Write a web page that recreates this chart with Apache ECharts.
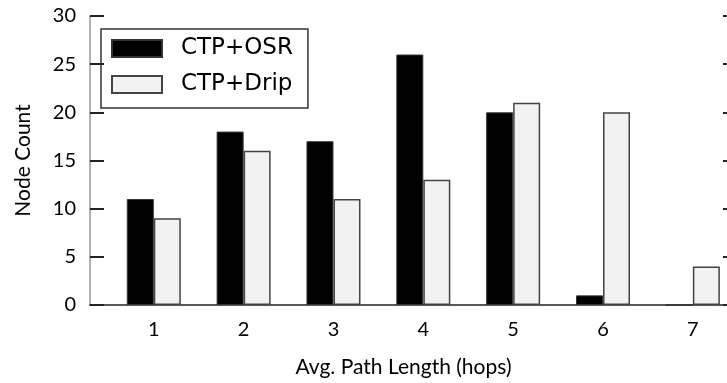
<!DOCTYPE html>
<html>
<head>
<meta charset="utf-8">
<script src="https://cdn.jsdelivr.net/npm/echarts@6/dist/echarts.min.js"></script>
<style>
  html, body { margin: 0; padding: 0; background: #fff; }
  #chart { width: 727px; height: 383px; }
</style>
</head>
<body>
<div id="chart"></div>
<script>
// Average path length histogram: nodes per hop count
const hops = [1, 2, 3, 4, 5, 6, 7];
const osrCounts = [11, 18, 17, 26, 20, 1, 0];
const dripCounts = [9, 16, 11, 13, 21, 20, 4];
const yTicks = [0, 5, 10, 15, 20, 25, 30];

const legendFont = 'DejaVu Sans';
const axisFont = 'Lato';

const xMin = 0.29;
const xMax = 7.38;

const chart = echarts.init(document.getElementById('chart'), null, { renderer: 'canvas' });

chart.setOption({
  animation: false,
  backgroundColor: '#ffffff',
  grid: { left: 90, top: 16, right: 0, height: 289, containLabel: false },
  legend: {
    orient: 'vertical',
    left: 101,
    top: 29,
    padding: [8, 15, 12, 10],
    itemGap: 13,
    itemWidth: 50,
    itemHeight: 17,
    borderColor: '#333',
    borderWidth: 1.5,
    icon: 'rect',
    textStyle: {
      fontFamily: legendFont,
      fontSize: 23,
      color: '#000',
      padding: [0, 0, 0, 14]
    },
    data: ['CTP+OSR', 'CTP+Drip']
  },
  xAxis: [
    {
      type: 'value',
      position: 'bottom',
      min: xMin,
      max: xMax,
      name: 'Avg. Path Length (hops)',
      nameLocation: 'middle',
      nameGap: 52,
      nameTextStyle: { fontFamily: axisFont, fontSize: 21, color: '#000', padding: [0, 10, 0, 0] },
      axisLine: { show: true, lineStyle: { color: '#333', width: 1.5 } },
      axisTick: { show: false },
      splitLine: { show: false },
      axisLabel: {
        customValues: hops,
        formatter: v => String(v),
        margin: 15,
        fontFamily: axisFont,
        fontSize: 20,
        color: '#000'
      }
    },
    {
      type: 'value',
      position: 'top',
      min: xMin,
      max: xMax,
      axisLine: { show: true, lineStyle: { color: '#555', width: 1.5 } },
      axisTick: { show: false },
      axisLabel: { show: false },
      splitLine: { show: false }
    }
  ],
  yAxis: [
    {
      type: 'value',
      position: 'left',
      min: yTicks[0],
      max: yTicks[yTicks.length - 1],
      interval: 5,
      name: 'Node Count',
      nameLocation: 'middle',
      nameRotate: 90,
      nameGap: 56,
      nameTextStyle: { fontFamily: axisFont, fontSize: 21, color: '#000' },
      axisLine: { show: true, lineStyle: { color: '#999', width: 1.5 } },
      axisTick: { show: true, inside: true, length: 14, lineStyle: { color: '#222', width: 2 } },
      splitLine: { show: false },
      axisLabel: { margin: 14, fontFamily: axisFont, fontSize: 20, color: '#000' }
    },
    {
      type: 'value',
      position: 'right',
      min: yTicks[0],
      max: yTicks[yTicks.length - 1],
      interval: 5,
      axisLine: { show: false },
      axisTick: { show: true, inside: true, length: 4, lineStyle: { color: '#222', width: 2 } },
      axisLabel: { show: false },
      splitLine: { show: false }
    }
  ],
  series: [
    {
      name: 'CTP+OSR',
      type: 'bar',
      xAxisIndex: 0,
      yAxisIndex: 0,
      barWidth: 27,
      barGap: '0%',
      itemStyle: { color: '#000', borderColor: '#333', borderWidth: 1 },
      data: hops.map((h, i) => [h, osrCounts[i]])
    },
    {
      name: 'CTP+Drip',
      type: 'bar',
      xAxisIndex: 0,
      yAxisIndex: 0,
      barWidth: 27,
      barGap: '0%',
      itemStyle: { color: '#f2f2f2', borderColor: '#444', borderWidth: 1.5 },
      data: hops.map((h, i) => [h, dripCounts[i]])
    }
  ]
});
</script>
</body>
</html>
